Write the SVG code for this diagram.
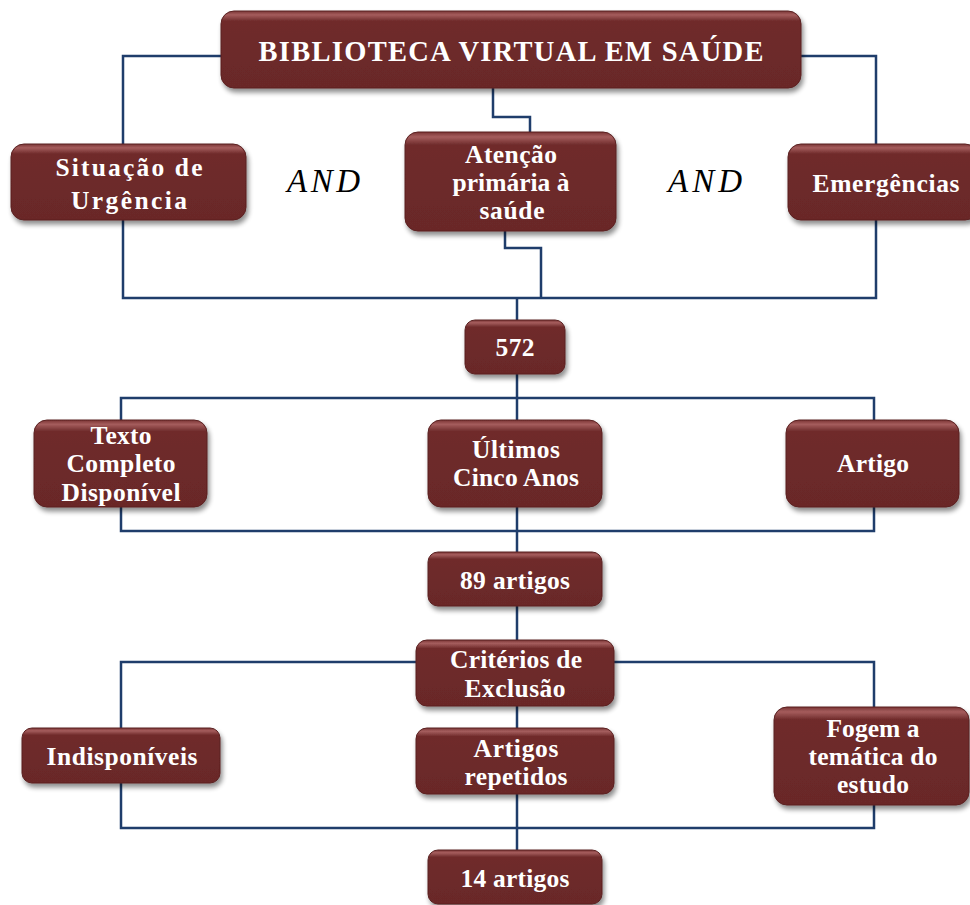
<svg xmlns="http://www.w3.org/2000/svg" width="970" height="905" viewBox="0 0 970 905">
<defs>
<linearGradient id="g" x1="0" y1="0" x2="0" y2="1">
<stop offset="0" stop-color="#7a3535"/>
<stop offset="0.05" stop-color="#a55d5d"/>
<stop offset="0.13" stop-color="#6f2b2b"/>
<stop offset="1" stop-color="#6a2828"/>
</linearGradient>
<filter id="sh" x="-10%" y="-10%" width="125%" height="140%">
<feGaussianBlur in="SourceAlpha" stdDeviation="2.5"/>
<feOffset dx="2" dy="4" result="b"/>
<feComponentTransfer><feFuncA type="linear" slope="0.45"/></feComponentTransfer>
<feMerge><feMergeNode/><feMergeNode in="SourceGraphic"/></feMerge>
</filter>
</defs>
<style>
.box{fill:url(#g);stroke:#5a2020;stroke-width:1;filter:url(#sh)}
.t{font-family:"Liberation Serif","Times New Roman",serif;font-weight:bold;font-size:25.5px;fill:#fff;text-anchor:middle}
.and{font-family:"Liberation Serif","Times New Roman",serif;font-style:italic;font-size:33px;fill:#000}
.c{fill:none;stroke:#1f3d6b;stroke-width:2.5}
</style>
<g id="connectors">
<polyline class="c" points="221,56 123,56 123,144"/>
<polyline class="c" points="801,56 876,56 876,144"/>
<polyline class="c" points="493,88 493,117 530,117 530,132"/>
<polyline class="c" points="505,231 505,248 541,248 541,298"/>
<polyline class="c" points="123,220 123,298 876,298 876,220"/>
<line class="c" x1="517" y1="298" x2="517" y2="320"/>
<line class="c" x1="517" y1="374" x2="517" y2="420"/>
<polyline class="c" points="121,420 121,398 874,398 874,420"/>
<polyline class="c" points="121,507 121,531 874,531 874,507"/>
<line class="c" x1="517" y1="507" x2="517" y2="552"/>
<line class="c" x1="517" y1="606" x2="517" y2="640"/>
<polyline class="c" points="416,662 121,662 121,728"/>
<polyline class="c" points="614,662 874,662 874,707"/>
<line class="c" x1="517" y1="706" x2="517" y2="728"/>
<polyline class="c" points="121,783 121,828 874,828 874,805"/>
<line class="c" x1="517" y1="794" x2="517" y2="850"/>
</g>
<g id="bvs"><rect class="box" x="221" y="11" width="580" height="77" rx="13"/><text class="t" x="511" y="61" style="font-size:28.5px" textLength="505" lengthAdjust="spacing">BIBLIOTECA VIRTUAL EM SAÚDE</text></g>
<g id="urgencia"><rect class="box" x="11" y="144" width="235" height="76" rx="13"/><text class="t" x="129" y="176" textLength="147" lengthAdjust="spacing">Situação de</text><text class="t" x="129" y="209" textLength="116" lengthAdjust="spacing">Urgência</text></g>
<g id="atencao"><rect class="box" x="405" y="132" width="211" height="99" rx="13"/><text class="t" x="511" y="163" textLength="92" lengthAdjust="spacing">Atenção</text><text class="t" x="511" y="191" textLength="117" lengthAdjust="spacing">primária à</text><text class="t" x="512" y="219" textLength="65" lengthAdjust="spacing">saúde</text></g>
<g id="emergencias"><rect class="box" x="788" y="144" width="190" height="76" rx="13"/><text class="t" x="886" y="192" textLength="147" lengthAdjust="spacing">Emergências</text></g>
<g id="and1"><text class="and" x="287" y="192" textLength="73" lengthAdjust="spacing">AND</text></g>
<g id="and2"><text class="and" x="668" y="192" textLength="74" lengthAdjust="spacing">AND</text></g>
<g id="n572"><rect class="box" x="465" y="320" width="100" height="54" rx="10"/><text class="t" x="515" y="356" textLength="39" lengthAdjust="spacing">572</text></g>
<g id="texto"><rect class="box" x="34" y="420" width="173" height="87" rx="13"/><text class="t" x="121" y="444" textLength="61" lengthAdjust="spacing">Texto</text><text class="t" x="121" y="472" textLength="109" lengthAdjust="spacing">Completo</text><text class="t" x="121" y="501" textLength="119" lengthAdjust="spacing">Disponível</text></g>
<g id="ultimos"><rect class="box" x="428" y="420" width="174" height="87" rx="13"/><text class="t" x="516" y="458" textLength="88" lengthAdjust="spacing">Últimos</text><text class="t" x="516" y="486" textLength="126" lengthAdjust="spacing">Cinco Anos</text></g>
<g id="artigo"><rect class="box" x="786" y="420" width="173" height="87" rx="13"/><text class="t" x="873" y="472" textLength="72" lengthAdjust="spacing">Artigo</text></g>
<g id="n89"><rect class="box" x="428" y="552" width="174" height="54" rx="10"/><text class="t" x="515" y="589" textLength="110" lengthAdjust="spacing">89 artigos</text></g>
<g id="criterios"><rect class="box" x="416" y="640" width="198" height="66" rx="11"/><text class="t" x="516" y="668" textLength="132" lengthAdjust="spacing">Critérios de</text><text class="t" x="515" y="697" textLength="101" lengthAdjust="spacing">Exclusão</text></g>
<g id="indisponiveis"><rect class="box" x="22" y="728" width="198" height="55" rx="10"/><text class="t" x="122" y="765" textLength="151" lengthAdjust="spacing">Indisponíveis</text></g>
<g id="repetidos"><rect class="box" x="416" y="728" width="198" height="66" rx="11"/><text class="t" x="516" y="757" textLength="85" lengthAdjust="spacing">Artigos</text><text class="t" x="516" y="785" textLength="103" lengthAdjust="spacing">repetidos</text></g>
<g id="fogem"><rect class="box" x="774" y="707" width="195" height="98" rx="13"/><text class="t" x="873" y="737" textLength="93" lengthAdjust="spacing">Fogem a</text><text class="t" x="873" y="765" textLength="129" lengthAdjust="spacing">temática do</text><text class="t" x="873" y="793" textLength="72" lengthAdjust="spacing">estudo</text></g>
<g id="n14"><rect class="box" x="428" y="850" width="174" height="54" rx="10"/><text class="t" x="515" y="887" textLength="109" lengthAdjust="spacing">14 artigos</text></g>
</svg>
